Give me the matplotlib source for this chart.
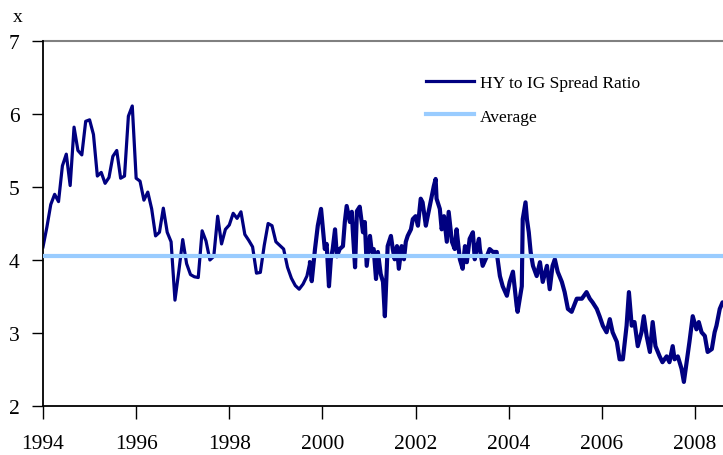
import numpy as np
import matplotlib.pyplot as plt

# monthly readings, Jan 1994 .. Sep 1999
early_vals = [4.18, 4.45, 4.76, 4.90, 4.80, 5.29, 5.45, 5.02, 5.82, 5.50, 5.44, 5.90,
              5.92, 5.72, 5.15, 5.20, 5.05, 5.13, 5.42, 5.50, 5.12, 5.15, 5.97, 6.11,
              5.12, 5.08, 4.82, 4.93, 4.70, 4.33, 4.38, 4.71, 4.38, 4.25, 3.45, 3.85,
              4.28, 3.95, 3.80, 3.77, 3.76, 4.40, 4.26, 4.00, 4.05, 4.60, 4.22, 4.42,
              4.48, 4.64, 4.57, 4.66, 4.35, 4.27, 4.18, 3.82, 3.83, 4.20, 4.50, 4.47,
              4.25, 4.20, 4.15, 3.90, 3.75, 3.65, 3.60, 3.67, 3.78]
early_years = 1994 + np.arange(len(early_vals)) / 12

# denser readings from late 1999 on
late_years = [1999.73, 1999.77, 1999.84, 1999.90, 1999.97, 2000.01, 2000.05, 2000.09, 2000.14,
              2000.18, 2000.22, 2000.27, 2000.31, 2000.37, 2000.44, 2000.48, 2000.52, 2000.59,
              2000.63, 2000.65, 2000.70, 2000.74, 2000.80, 2000.87, 2000.91, 2000.95, 2001.02,
              2001.06, 2001.10, 2001.15, 2001.19, 2001.25, 2001.30, 2001.34, 2001.38, 2001.40,
              2001.47, 2001.51, 2001.55, 2001.60, 2001.64, 2001.70, 2001.75, 2001.79, 2001.83,
              2001.90, 2001.94, 2002.00, 2002.05, 2002.11, 2002.15, 2002.22, 2002.26, 2002.35,
              2002.39, 2002.43, 2002.45, 2002.52, 2002.56, 2002.61, 2002.67, 2002.71, 2002.78,
              2002.84, 2002.88, 2002.95, 2003.01, 2003.06, 2003.10, 2003.16, 2003.23, 2003.27,
              2003.31, 2003.36, 2003.38, 2003.44, 2003.53, 2003.59, 2003.66, 2003.74, 2003.81,
              2003.87, 2003.96, 2004.02, 2004.09, 2004.17, 2004.19, 2004.28, 2004.30, 2004.36,
              2004.39, 2004.43, 2004.47, 2004.52, 2004.60, 2004.67, 2004.73, 2004.82, 2004.88,
              2004.94, 2004.99, 2005.05, 2005.14, 2005.20, 2005.27, 2005.35, 2005.46, 2005.57,
              2005.67, 2005.74, 2005.80, 2005.89, 2005.95, 2006.02, 2006.10, 2006.17, 2006.23,
              2006.32, 2006.38, 2006.45, 2006.53, 2006.58, 2006.64, 2006.70, 2006.77, 2006.85,
              2006.90, 2006.96, 2007.03, 2007.09, 2007.15, 2007.24, 2007.30, 2007.39, 2007.45,
              2007.52, 2007.56, 2007.63, 2007.71, 2007.76, 2007.82, 2007.88, 2007.95, 2008.03,
              2008.08, 2008.14, 2008.21, 2008.27, 2008.36, 2008.42, 2008.46, 2008.53, 2008.59]
late_vals = [3.97, 3.71, 4.15, 4.47, 4.70, 4.42, 4.15, 4.22, 3.64,
             4.01, 4.15, 4.42, 4.05, 4.15, 4.19, 4.52, 4.74, 4.52,
             4.66, 4.42, 3.90, 4.67, 4.73, 4.38, 4.52, 3.92, 4.33,
             4.11, 4.15, 3.74, 4.11, 3.81, 3.70, 3.23, 3.88, 4.19,
             4.33, 4.15, 4.01, 4.19, 3.88, 4.19, 4.01, 4.25, 4.33,
             4.42, 4.56, 4.60, 4.47, 4.84, 4.79, 4.47, 4.60, 4.88,
             5.01, 5.11, 4.84, 4.70, 4.42, 4.60, 4.25, 4.66, 4.25,
             4.15, 4.42, 4.01, 3.88, 4.19, 3.97, 4.29, 4.38, 4.01,
             4.15, 4.29, 4.15, 3.92, 4.05, 4.15, 4.11, 4.11, 3.78,
             3.64, 3.51, 3.70, 3.84, 3.37, 3.29, 3.64, 4.56, 4.79,
             4.56, 4.38, 4.11, 3.92, 3.78, 3.97, 3.70, 3.92, 3.60,
             3.92, 4.01, 3.84, 3.70, 3.56, 3.33, 3.29, 3.47, 3.47,
             3.56, 3.47, 3.42, 3.33, 3.23, 3.10, 3.01, 3.19, 3.01,
             2.88, 2.64, 2.64, 3.10, 3.56, 3.10, 3.15, 2.82, 3.01,
             3.23, 2.96, 2.74, 3.15, 2.82, 2.68, 2.60, 2.68, 2.60,
             2.82, 2.64, 2.68, 2.51, 2.33, 2.60, 2.88, 3.23, 3.05,
             3.15, 3.01, 2.96, 2.74, 2.78, 3.01, 3.10, 3.33, 3.42]

average = 4.05

serif = 'Liberation Serif'
navy = '#000080'
fig = plt.figure(figsize=(7.23, 4.56), dpi=100)
ax = fig.add_axes([43 / 723, 1 - 407 / 456, 1 - 43 / 723, 365 / 456])

# smooth monthly part, then the noisier part drawn a bit heavier
ax.plot(np.append(early_years, late_years[0]), np.append(early_vals, late_vals[0]),
        color=navy, lw=2.3, solid_joinstyle='round', label='HY to IG Spread Ratio', zorder=2)
ax.plot(late_years, late_vals, color=navy, lw=3.0, solid_joinstyle='round',
        solid_capstyle='round', zorder=2)
ax.axhline(average, color='#99CCFF', lw=3, label='Average', zorder=3)
ax.axhline(7, color='#808080', lw=1.5, zorder=1, clip_on=False)

ax.set_xlim(1994, 2008.6)
ax.set_ylim(2, 7)
ax.set_xticks(range(1994, 2009, 2))
ax.set_yticks(range(2, 8))
for s in ['top', 'right']:
    ax.spines[s].set_visible(False)
for s in ['left', 'bottom']:
    ax.spines[s].set_linewidth(1.3)
ax.tick_params(axis='x', direction='out', length=9, width=1, pad=11, labelsize=15.5)
ax.tick_params(axis='y', direction='out', length=8, width=1, pad=9, labelsize=15.5)
for lab in ax.get_xticklabels() + ax.get_yticklabels():
    lab.set_fontfamily(serif)

fig.text(18 / 723, 1 - 18 / 456, 'x', family=serif, fontsize=14, ha='center', va='center')

ax.legend(loc='upper left', bbox_to_anchor=(0.54, 0.95), frameon=False, handlelength=2.75,
          handletextpad=0.35, labelspacing=1.0, prop={'family': serif, 'size': 12.5})

fig.savefig('out.png', dpi=100)
